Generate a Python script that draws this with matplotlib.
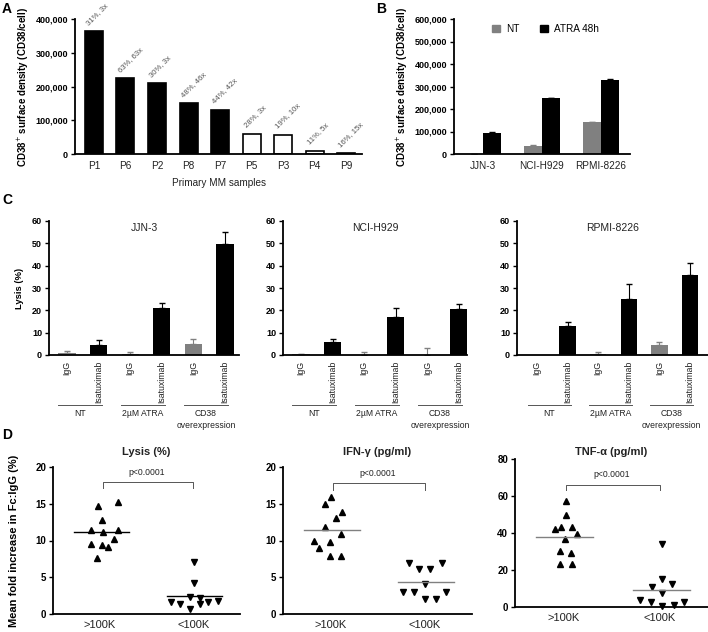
import matplotlib
matplotlib.use('Agg')
import matplotlib.pyplot as plt
import numpy as np
from matplotlib.ticker import FuncFormatter
from matplotlib.patches import Patch

plt.rcParams['font.family'] = ['Liberation Sans', 'DejaVu Sans']

# ---------------- data ----------------
a_samples = ['P1', 'P6', 'P2', 'P8', 'P7', 'P5', 'P3', 'P4', 'P9']
a_values = [363000, 224000, 209000, 150000, 131000, 59000, 57000, 10000, 2000]
a_filled = [True, True, True, True, True, False, False, False, False]
a_labels = ['31%, 3x', '63%, 63x', '30%, 3x', '48%, 46x', '44%, 42x',
            '28%, 3x', '19%, 10x', '11%, 5x', '16%, 15x']

b_lines = ['JJN-3', 'NCI-H929', 'RPMI-8226']
b_nt = [0, 37000, 144000]
b_nt_err = [0, 4000, 0]
b_atra = [92000, 250000, 328000]
b_atra_err = [4000, 0, 4000]

c_titles = ['JJN-3', 'NCI-H929', 'RPMI-8226']
c_xlabels = ['IgG', 'Isatuximab', 'IgG', 'Isatuximab', 'IgG', 'Isatuximab']
c_groups = ['NT', '2µM ATRA', 'CD38\noverexpression']
c_values = [[1.0, 4.7, 0.3, 21.0, 5.0, 49.5],
            [0.3, 6.0, 0.2, 17.0, 0.2, 20.5],
            [0.0, 13.0, 0.5, 25.0, 4.3, 36.0]]
c_errors = [[1.0, 1.8, 0.9, 2.5, 2.2, 5.5],
            [0.2, 1.3, 1.0, 4.0, 3.1, 2.5],
            [0.0, 2.0, 1.0, 7.0, 1.7, 5.2]]

d_titles = ['Lysis (%)', 'IFN-γ (pg/ml)', 'TNF-α (pg/ml)']
d_cats = ['>100K', '<100K']
lysis_hi = [14.7, 15.25, 12.76, 11.4, 11.2, 11.4, 10.2, 9.5, 9.37, 9.14, 7.65]
lysis_hi_x = [-0.02, 0.19, 0.025, -0.09, 0.036, 0.195, 0.15, -0.09, 0.025, 0.09, -0.03]
lysis_lo = [7.1, 4.17, 1.67, 1.34, 2.36, 0.68, 2.2, 1.34, 1.59, 1.81]
lysis_lo_x = [0.01, 0.01, -0.24, -0.14, -0.04, -0.04, 0.07, 0.07, 0.16, 0.27]
ifn_hi = [15.9, 14.9, 13.9, 13.0, 11.9, 10.9, 9.9, 9.8, 9.0, 7.9, 7.9]
ifn_hi_x = [0.01, -0.06, 0.125, 0.06, -0.06, 0.115, -0.17, 0.0, -0.115, 0.0, 0.115]
ifn_lo = [7.0, 6.06, 6.06, 7.0, 4.07, 3.03, 3.03, 3.03, 2.04, 2.04]
ifn_lo_x = [-0.17, -0.06, 0.06, 0.18, 0.0, -0.23, -0.115, 0.225, 0.0, 0.12]
tnf_hi = [57.2, 49.6, 41.9, 43.3, 43.3, 39.4, 36.6, 30.1, 29.4, 23.1, 23.1]
tnf_hi_x = [0.03, 0.03, -0.085, -0.025, 0.09, 0.14, 0.02, -0.03, 0.08, -0.03, 0.09]
tnf_lo = [33.9, 15.0, 10.8, 12.3, 7.8, 4.0, 2.7, 0.9, 2.7, 0.5]
tnf_lo_x = [0.02, 0.02, -0.085, 0.13, 0.02, -0.2, -0.095, 0.145, 0.25, 0.02]
d_pvalue = 'p<0.0001'

# ---------------- figure ----------------
W, H = 708, 632
fig = plt.figure(figsize=(W / 100, H / 100), dpi=100)


def add_ax(l, t, r, b):
    return fig.add_axes([l / W, 1 - b / H, (r - l) / W, (b - t) / H])


def style(ax, lw=1.3):
    for s in ['top', 'right']:
        ax.spines[s].set_visible(False)
    for s in ['left', 'bottom']:
        ax.spines[s].set_linewidth(lw)
    ax.tick_params(axis='y', length=3, width=1, direction='out', pad=2)
    ax.tick_params(axis='x', length=0)


GRAY = '#808080'
TXT = '#222222'
comma = FuncFormatter(lambda v, p: f'{int(v):,}')

# panel labels
for lab, (x, y) in zip('ABCD', [(7, 9), (381, 9), (7, 200), (7, 435)]):
    fig.text(x / W, 1 - y / H, lab, fontsize=10, fontweight='bold', ha='center', va='center')

# ---------------- A ----------------
axA = add_ax(75, 19, 362, 154)
xa = np.arange(len(a_samples))
for i, (v, f) in enumerate(zip(a_values, a_filled)):
    axA.bar(xa[i], v, width=0.57, color='black' if f else 'white', edgecolor='black', linewidth=1.2)
    axA.annotate(a_labels[i], (xa[i], v), xytext=(-3, 3.5), textcoords='offset points',
                 rotation=45, rotation_mode='anchor', ha='left', va='bottom',
                 fontsize=5.6, color='#555555', annotation_clip=False)
axA.set_xlim(-0.6, 8.5)
axA.set_ylim(0, 400000)
axA.set_yticks([0, 100000, 200000, 300000, 400000])
axA.yaxis.set_major_formatter(comma)
axA.set_xticks(xa)
axA.set_xticklabels(a_samples, fontsize=7.2, color=TXT)
style(axA)
axA.tick_params(axis='x', pad=5)
for t in axA.get_yticklabels():
    t.set_fontweight('bold'); t.set_fontsize(6.5)
axA.set_xlabel('Primary MM samples', fontsize=7.2, color=TXT, labelpad=5)
axA.set_ylabel('CD38$^{+}$ surface density (CD38/cell)', fontsize=7, fontweight='bold', labelpad=3)

# ---------------- B ----------------
axB = add_ax(454, 19, 630, 154)
xb = np.arange(len(b_lines))
axB.bar(xb - 0.15, b_nt, width=0.3, color=GRAY)
axB.bar(xb + 0.15, b_atra, width=0.3, color='black')
axB.errorbar(xb - 0.15, b_nt, yerr=[np.zeros(3), b_nt_err], fmt='none', ecolor=GRAY,
             elinewidth=0.8, capsize=2)
axB.errorbar(xb + 0.15, b_atra, yerr=[np.zeros(3), b_atra_err], fmt='none', ecolor='black',
             elinewidth=0.8, capsize=2)
axB.set_xlim(-0.49, 2.49)
axB.set_ylim(0, 600000)
axB.set_yticks(np.arange(0, 600001, 100000))
axB.yaxis.set_major_formatter(comma)
axB.set_xticks(xb)
axB.set_xticklabels(b_lines, fontsize=7.2, color=TXT)
style(axB)
axB.tick_params(axis='x', pad=5)
for t in axB.get_yticklabels():
    t.set_fontweight('bold'); t.set_fontsize(6.5)
axB.set_ylabel('CD38$^{+}$ surface density (CD38/cell)', fontsize=7, fontweight='bold', labelpad=3)
axB.legend(handles=[Patch(color=GRAY, label='NT'), Patch(color='black', label='ATRA 48h')],
           ncol=2, frameon=False, fontsize=7.2, loc='upper center', bbox_to_anchor=(0.52, 1.03),
           handlelength=0.8, handleheight=0.8, columnspacing=2.0, handletextpad=0.6)

# ---------------- C ----------------
c_boxes = [(49, 239, 67, 31.6), (283, 467, 301, 31.6), (517, 708, 537, 30.6)]
for k in range(3):
    l, r, c0, sp = c_boxes[k]
    ax = add_ax(l, 221, r, 355)
    xc = np.arange(6)
    cols = [GRAY if j % 2 == 0 else 'black' for j in range(6)]
    ax.bar(xc, c_values[k], width=0.54, color=cols)
    for j in range(6):
        if c_errors[k][j] > 0:
            ax.errorbar(xc[j], c_values[k][j], yerr=[[0], [c_errors[k][j]]], fmt='none',
                        ecolor=cols[j], elinewidth=0.8, capsize=2)
    ax.set_xlim((l - c0) / sp, (r - c0) / sp)
    ax.set_ylim(0, 60)
    ax.set_yticks(np.arange(0, 61, 10))
    ax.set_xticks(xc)
    ax.set_xticklabels(c_xlabels, rotation=90, fontsize=6.3, color=TXT, va='top')
    style(ax)
    ax.tick_params(axis='x', pad=4)
    for t in ax.get_yticklabels():
        t.set_fontweight('bold'); t.set_fontsize(6.5)
    ax.text(0.5, 0.95, c_titles[k], transform=ax.transAxes, ha='center', va='center',
            fontsize=7.5, color=TXT)
    if k == 0:
        ax.set_ylabel('Lysis (%)', fontsize=6.8, fontweight='bold', labelpad=6)
    trans = ax.get_xaxis_transform()
    hpx = 355 - 221
    for g in range(3):
        ax.plot([2 * g - 0.3, 2 * g + 1.1], [-(405 - 355) / hpx] * 2, color='#555555', lw=0.7,
                transform=trans, clip_on=False)
        ax.text(2 * g + 0.4, -(409 - 355) / hpx, c_groups[g], transform=trans, ha='center',
                va='top', fontsize=6.2, color=TXT, linespacing=1.4)

# ---------------- D ----------------
d_boxes = [(53, 467, 240, 614), (283, 467, 472, 614), (515, 459, 708, 607)]
d_hi = [(lysis_hi, lysis_hi_x), (ifn_hi, ifn_hi_x), (tnf_hi, tnf_hi_x)]
d_lo = [(lysis_lo, lysis_lo_x), (ifn_lo, ifn_lo_x), (tnf_lo, tnf_lo_x)]
d_ymax = [20, 20, 80]
d_line_col = ['black', GRAY, GRAY]
d_bracket = [(18.0, 17.1, 19.3), (17.8, 16.9, 19.1), (66.0, 63.3, 71.5)]
for k in range(3):
    l, t, r, b = d_boxes[k]
    ax = add_ax(l, t, r, b)
    hv, hx = d_hi[k]
    lv, lx = d_lo[k]
    ax.plot(np.array(hx) + 0, hv, '^', color='black', markersize=4.6, clip_on=False)
    ax.plot(np.array(lx) + 1, lv, 'v', color='black', markersize=4.6, clip_on=False)
    ax.plot([-0.28, 0.31], [np.mean(hv)] * 2, color=d_line_col[k], lw=1.0)
    ax.plot([0.72, 1.31], [np.mean(lv)] * 2, color=d_line_col[k], lw=1.0)
    ax.set_xlim(-0.5, 1.5)
    ax.set_ylim(0, d_ymax[k])
    ax.set_yticks(np.linspace(0, d_ymax[k], 5))
    ax.set_xticks([0, 1])
    ax.set_xticklabels(d_cats, fontsize=8, color=TXT)
    style(ax)
    ax.tick_params(axis='x', pad=4)
    for tl in ax.get_yticklabels():
        tl.set_fontweight('bold'); tl.set_fontsize(7)
    yb, ya, yt = d_bracket[k]
    ax.plot([0.03, 0.03, 1.0, 1.0], [ya, yb, yb, ya], color='#555555', lw=0.7, clip_on=False)
    ax.text(0.5, yt, d_pvalue, ha='center', va='center', fontsize=6.2, color=TXT)
    ax.text(0.5, 1 + (t - 452) / (b - t), d_titles[k], transform=ax.transAxes, ha='center',
            va='center', fontsize=8, fontweight='bold', color=TXT)
    if k == 0:
        ax.set_ylabel('Mean fold increase in Fc:IgG (%)', fontsize=8, fontweight='bold', labelpad=12)

fig.savefig('out.png', dpi=100)
